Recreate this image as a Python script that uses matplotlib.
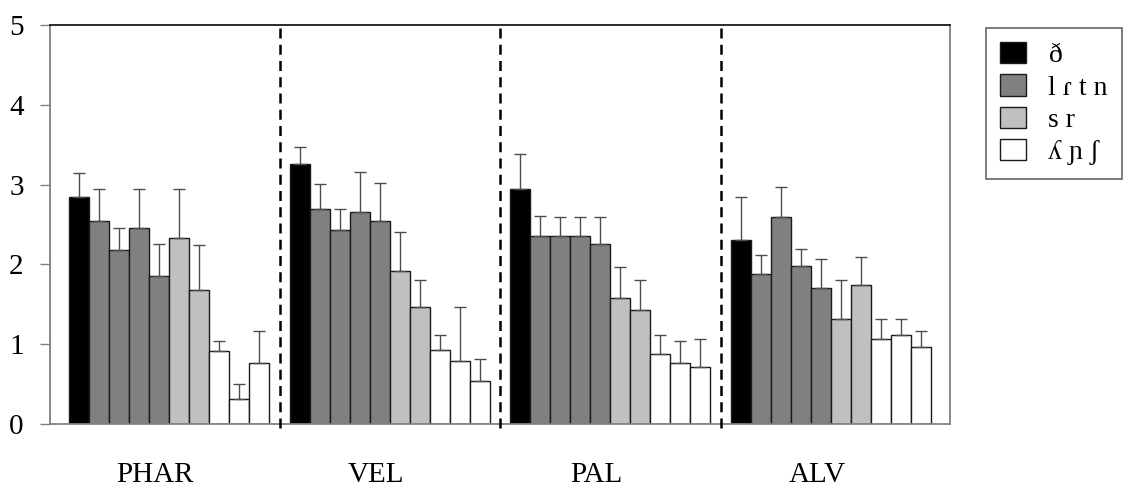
import matplotlib
matplotlib.use("Agg")
import matplotlib.pyplot as plt
import numpy as np
from matplotlib.patches import Patch

plt.rcParams['font.family'] = ['Liberation Serif', 'DejaVu Serif']

# places of articulation (groups)
groups = ['PHAR', 'VEL', 'PAL', 'ALV']

# 10 bars per group: 1 black, 4 dark grey, 2 light grey, 3 white
bar_class = [0, 1, 1, 1, 1, 2, 2, 3, 3, 3]
class_labels = ['ð', 'l ɾ t n', 's r', 'ʎ ɲ ʃ']

phar_mean = [2.85, 2.54, 2.18, 2.46, 1.86, 2.33, 1.68, 0.91, 0.31, 0.76]
phar_top = [3.14, 2.94, 2.46, 2.94, 2.25, 2.95, 2.24, 1.04, 0.50, 1.16]
vel_mean = [3.26, 2.70, 2.43, 2.66, 2.54, 1.92, 1.47, 0.93, 0.79, 0.54]
vel_top = [3.47, 3.01, 2.70, 3.16, 3.02, 2.40, 1.80, 1.11, 1.46, 0.82]
pal_mean = [2.95, 2.36, 2.35, 2.35, 2.26, 1.58, 1.43, 0.88, 0.77, 0.71]
pal_top = [3.38, 2.61, 2.60, 2.59, 2.60, 1.97, 1.80, 1.11, 1.04, 1.07]
alv_mean = [2.31, 1.88, 2.59, 1.98, 1.70, 1.31, 1.74, 1.07, 1.11, 0.97]
alv_top = [2.85, 2.12, 2.97, 2.19, 2.07, 1.80, 2.09, 1.31, 1.32, 1.16]

means = [phar_mean, vel_mean, pal_mean, alv_mean]
tops = [phar_top, vel_top, pal_top, alv_top]

fills = ['#000000', '#808080', '#c0c0c0', '#ffffff']

fig = plt.figure(figsize=(11.23, 4.88), dpi=100)
ax = fig.add_axes([50 / 1123, 64 / 488, 900 / 1123, 399 / 488])

start = 0.95
step = 11.03
for g in range(4):
    x = start + step * g + np.arange(10) + 0.5
    m = np.array(means[g])
    err = np.array(tops[g]) - m
    cols = [fills[c] for c in bar_class]
    ax.bar(x, m, width=1.0, color=cols, edgecolor='#1a1a1a', linewidth=1.0,
           zorder=2)
    ax.errorbar(x, m, yerr=[np.zeros(10), err], fmt='none', ecolor='#4d4d4d',
                elinewidth=1.0, capsize=4, capthick=1.0, zorder=3)
    if g > 0:
        ax.axvline(start + step * g - 0.5, color='black', lw=1.8,
                   ls=(0, (4, 2.5)), ymin=-0.01, clip_on=False, zorder=4)

ax.set_xlim(0, 45)
ax.set_ylim(0, 5)
ax.set_yticks([0, 1, 2, 3, 4, 5])
ax.tick_params(axis='y', length=7, width=1, color='#808080', pad=12,
               labelsize=21)
centers = [start + step * g + 5 - 0.7 for g in range(4)]
ax.set_xticks(centers)
ax.set_xticklabels(groups)
ax.tick_params(axis='x', length=0, pad=27, labelsize=21)

for side in ['left', 'bottom', 'right']:
    ax.spines[side].set_color('#808080')
    ax.spines[side].set_linewidth(1.3)
ax.spines['top'].set_color('#1a1a1a')
ax.spines['top'].set_linewidth(1.3)

handles = [Patch(facecolor=fills[i], edgecolor='#1a1a1a', linewidth=1.0)
           for i in range(4)]
leg = fig.legend(handles, class_labels, loc='upper left',
                 bbox_to_anchor=(986 / 1123, 1 - 28 / 488), fontsize=20,
                 frameon=True, fancybox=False, edgecolor='#404040',
                 handlelength=0.95, handleheight=0.8, labelspacing=0.22,
                 handletextpad=0.8, borderpad=0.5, borderaxespad=0)
leg.get_frame().set_linewidth(1.2)

fig.savefig('out.png', dpi=100)
